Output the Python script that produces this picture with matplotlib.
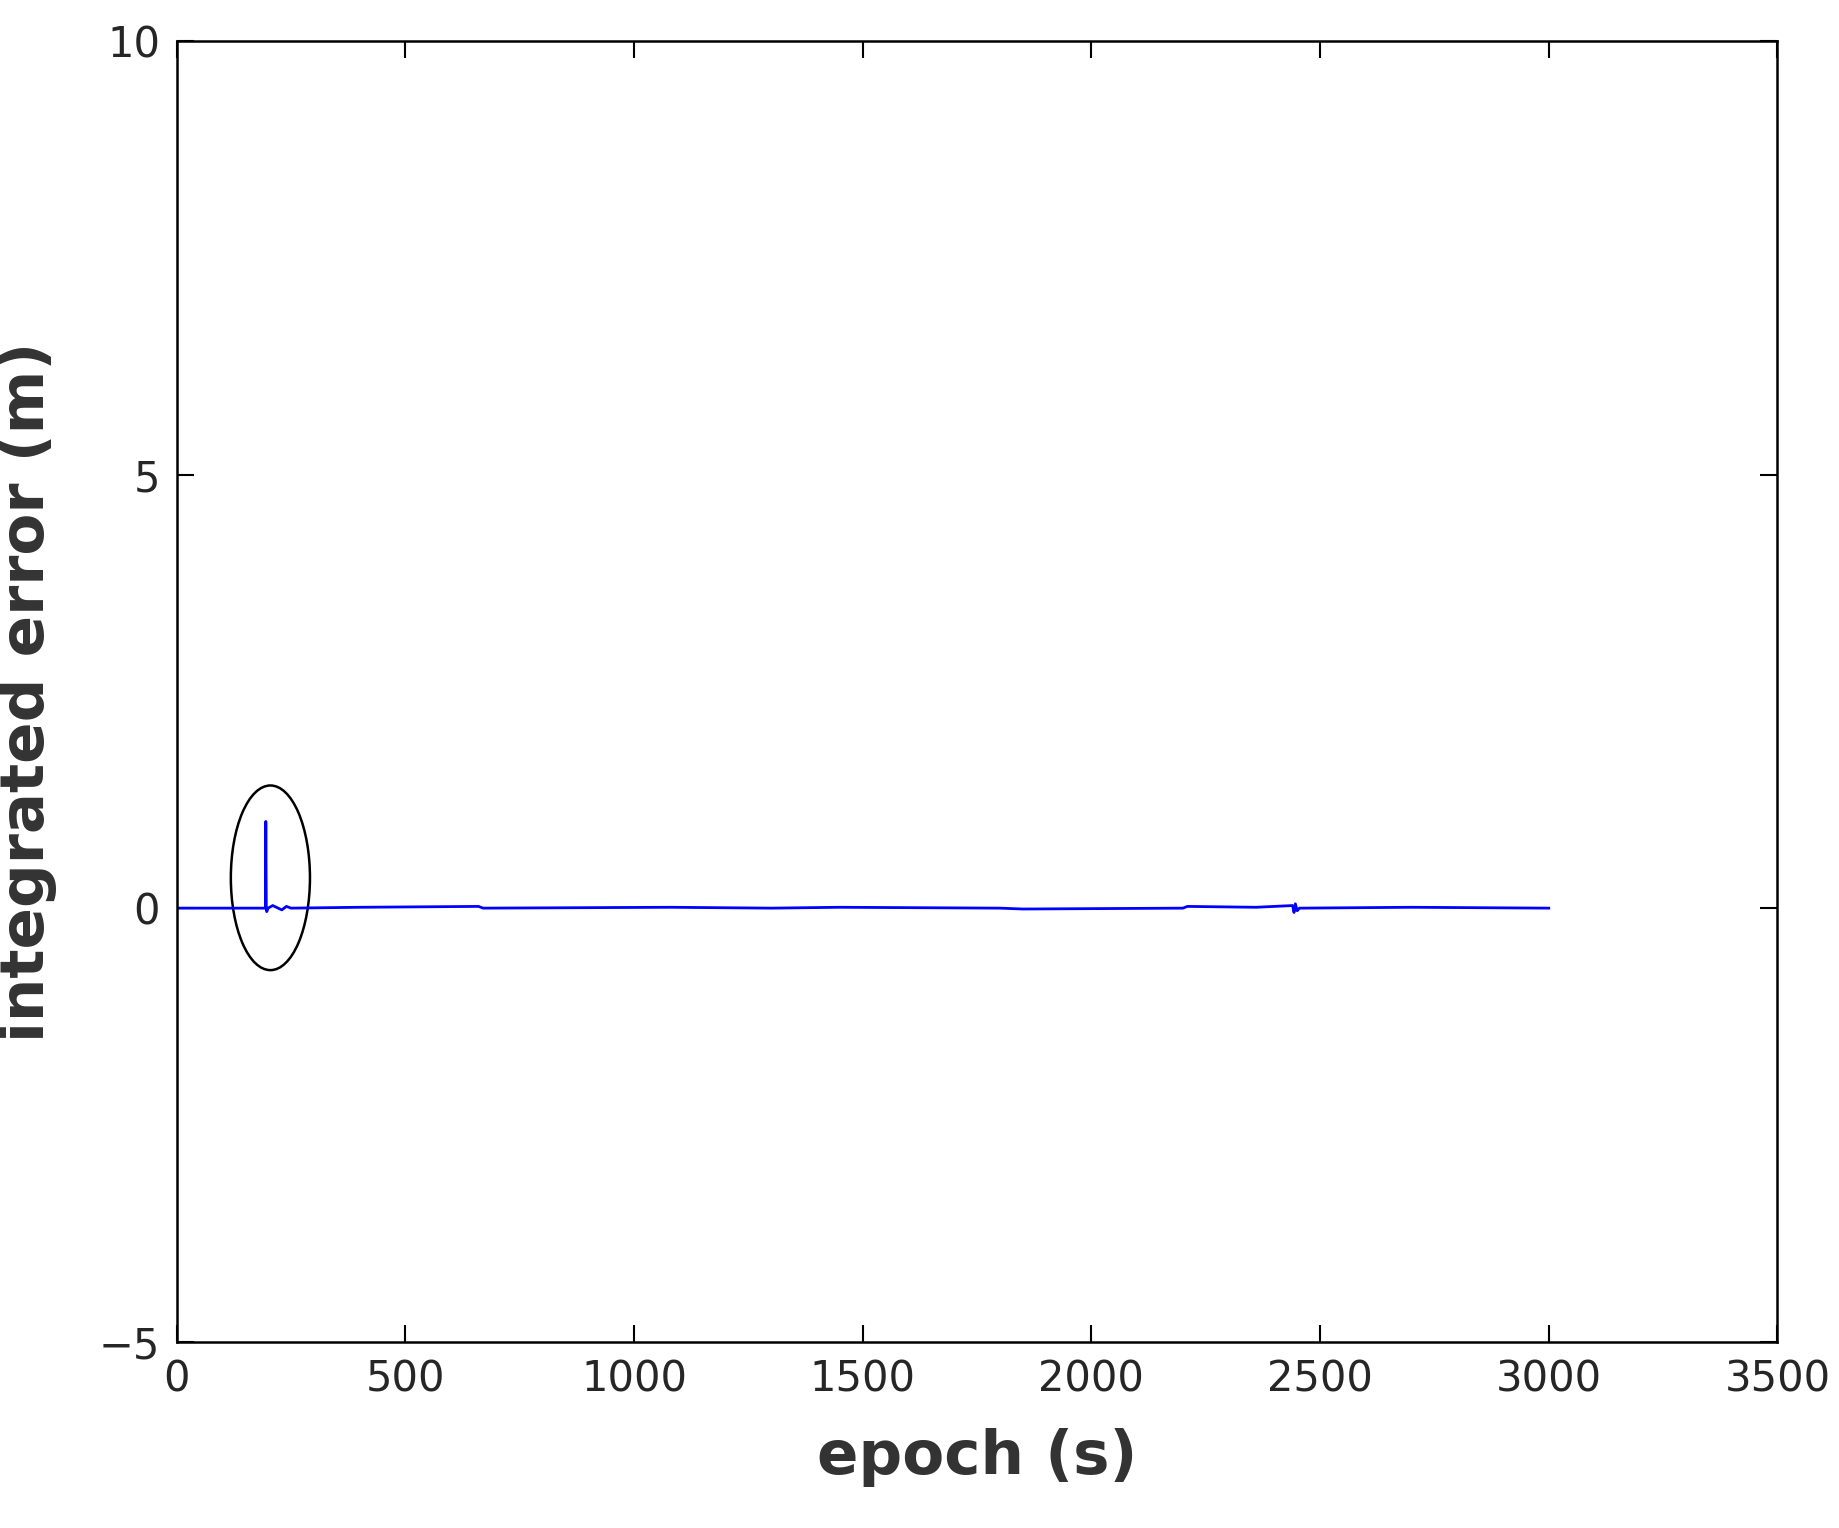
import matplotlib.pyplot as plt
from matplotlib.patches import Ellipse

# integrated error (mostly flat at zero)
epoch = [0, 150, 194, 195, 196, 197, 200, 210, 230, 240, 250, 400, 660, 670, 1080,
         1300, 1450, 1800, 1850, 2200, 2210, 2360, 2440, 2443, 2446, 2450, 2455, 2700, 3000]
err = [0.0, 0.0, 0.0, 1.0, 0.02, -0.04, 0.0, 0.03, -0.02, 0.02, 0.0, 0.01, 0.02, 0.0, 0.01,
       0.0, 0.01, 0.0, -0.01, 0.0, 0.02, 0.01, 0.03, -0.05, 0.05, -0.03, 0.0, 0.01, 0.0]

xticks = [0, 500, 1000, 1500, 2000, 2500, 3000, 3500]
yticks = [-5, 0, 5, 10]

fig = plt.figure(figsize=(18.4, 15.28), dpi=100)
ax = fig.add_axes([0.096, 0.122, 0.87, 0.851])
ax.plot(epoch, err, color="blue", lw=2)
ax.add_patch(Ellipse((205, 0.35), 173, 2.13, fill=False, ec="black", lw=1.8))

ax.set_xlim(0, 3500)
ax.set_ylim(-5, 10)
ax.set_xticks(xticks)
ax.set_yticks(yticks)
ax.tick_params(direction="in", length=12, width=1.5, labelsize=30, pad=12,
               top=True, right=True, labelcolor="#262626")
for s in ax.spines.values():
    s.set_linewidth(1.8)
ax.set_xlabel("epoch (s)", fontsize=44, fontweight="bold", color="#333333", labelpad=20)
ax.set_ylabel("integrated error (m)", fontsize=44, fontweight="bold", color="#333333", labelpad=30)

fig.savefig("out.png")
